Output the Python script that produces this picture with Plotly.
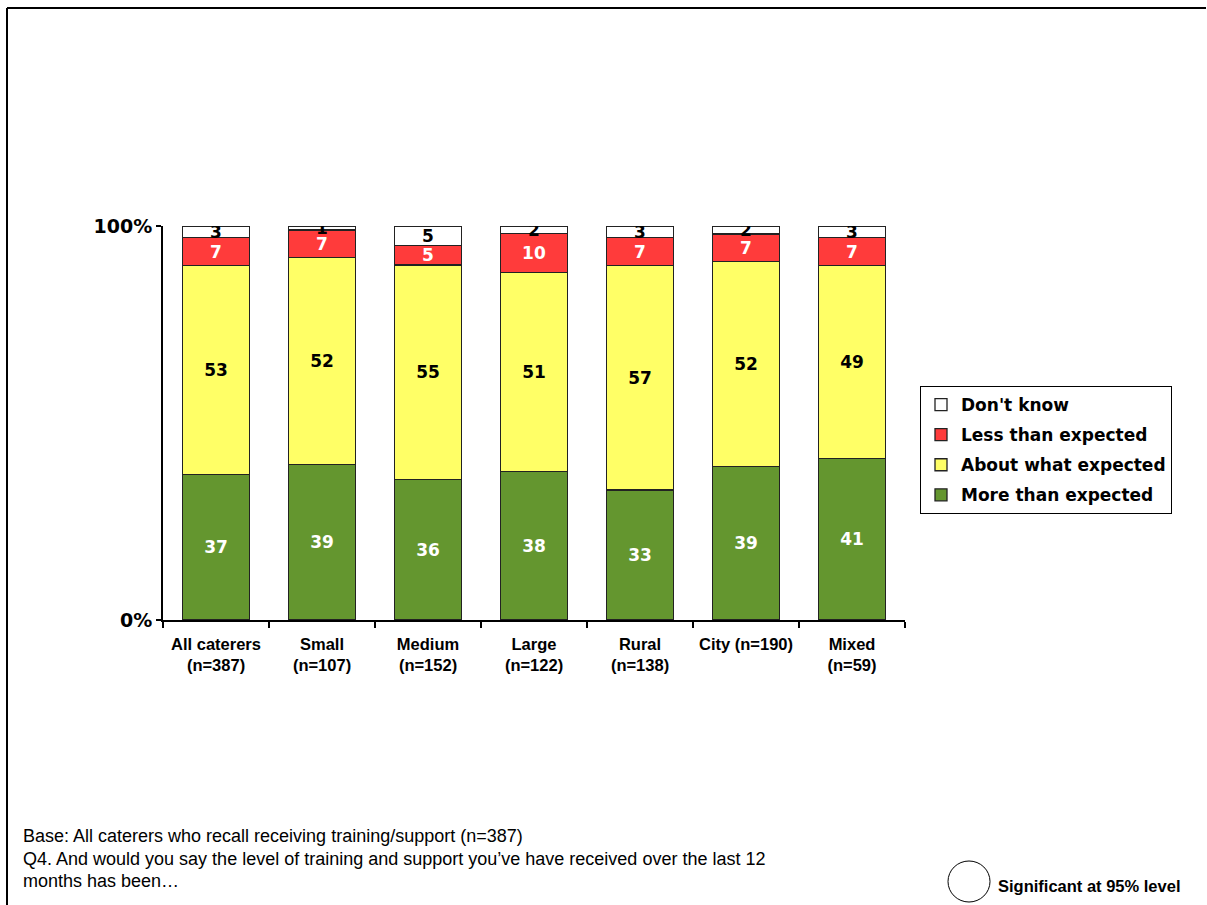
import plotly.graph_objects as go

# Survey results: level of training/support received vs. expectation
categories = [
    "All caterers<br>(n=387)",
    "Small<br>(n=107)",
    "Medium<br>(n=152)",
    "Large<br>(n=122)",
    "Rural<br>(n=138)",
    "City (n=190)",
    "Mixed<br>(n=59)",
]
more_than_expected = [37, 39, 36, 38, 33, 39, 41]
about_what_expected = [53, 52, 55, 51, 57, 52, 49]
less_than_expected = [7, 7, 5, 10, 7, 7, 7]
dont_know = [3, 1, 5, 2, 3, 2, 3]

# stacked bottom-to-top; legend lists them top-to-bottom
series = [
    ("More than expected", more_than_expected, "#64962F", "white"),
    ("About what expected", about_what_expected, "#FFFF66", "black"),
    ("Less than expected", less_than_expected, "#FF3B3B", "white"),
    ("Don't know", dont_know, "#FFFFFF", "black"),
]

W, H = 1207, 905
L, R, T, B = 163, 905, 226, 620  # plot area in pixels


def px_x(px):
    return (px - L) / (R - L)


def px_y(py):
    return (B - py) / (B - T)


BOLD = "DejaVu Sans"

fig = go.Figure()
for i, (name, vals, color, txtcolor) in enumerate(series):
    fig.add_trace(go.Bar(
        name=name,
        legendgroup=name,
        legendrank=1000 - i,
        x=categories,
        y=vals,
        text=[str(v) for v in vals],
        textposition="inside",
        insidetextanchor="middle",
        textangle=0,
        constraintext="none",
        textfont=dict(family=BOLD, size=17, color=txtcolor, weight="bold"),
        marker=dict(color=color, line=dict(color="#222222", width=1.3)),
    ))

shapes = [
    # page frame (top and left edges)
    dict(type="line", xref="paper", yref="paper",
         x0=px_x(7), x1=px_x(1206), y0=px_y(8), y1=px_y(8),
         line=dict(color="black", width=2)),
    dict(type="line", xref="paper", yref="paper",
         x0=px_x(7), x1=px_x(7), y0=px_y(8), y1=px_y(906),
         line=dict(color="black", width=2)),
    # significance marker
    dict(type="circle", xref="paper", yref="paper",
         x0=px_x(948), x1=px_x(990), y0=px_y(861), y1=px_y(902),
         line=dict(color="black", width=1)),
]

foot_font = dict(family="Liberation Sans", size=18, color="black")
annotations = [
    dict(text="Base: All caterers who recall receiving training/support (n=387)",
         x=px_x(21), y=px_y(836)),
    dict(text="Q4. And would you say the level of training and support you\u2019ve have received over the last 12",
         x=px_x(21), y=px_y(859)),
    dict(text="months has been\u2026",
         x=px_x(21), y=px_y(881)),
]
annotations = [dict(a, xref="paper", yref="paper", xanchor="left", yanchor="middle",
                    showarrow=False, font=foot_font) for a in annotations]
annotations.append(dict(text="<b>Significant at 95% level</b>", xref="paper", yref="paper",
                        x=px_x(996), y=px_y(886), xanchor="left", yanchor="middle",
                        showarrow=False,
                        font=dict(family="Liberation Sans", size=16.5, color="black")))

fig.update_layout(
    width=W, height=H,
    margin=dict(l=L, r=W - R, t=T, b=H - B, pad=0),
    paper_bgcolor="white", plot_bgcolor="white",
    barmode="stack", barnorm="percent", bargap=0.37,
    showlegend=True,
    legend=dict(
        x=px_x(920), y=px_y(386), xanchor="left", yanchor="top",
        traceorder="grouped", tracegroupgap=5,
        bgcolor="white", bordercolor="black", borderwidth=1,
        font=dict(family=BOLD, size=17, color="black", weight="bold"),
        itemwidth=30,
    ),
    xaxis=dict(
        showline=True, linecolor="black", linewidth=2,
        ticks="outside", ticklen=6, tickcolor="black", tickwidth=2,
        tickson="boundaries", tickangle=0, ticklabelstandoff=8,
        tickfont=dict(family="Liberation Sans", size=16.5, color="black", weight="bold"),
        showgrid=False, fixedrange=True,
    ),
    yaxis=dict(
        range=[0, 100], tickvals=[0, 100], ticktext=["0%", "100%"],
        showline=True, linecolor="black", linewidth=2,
        ticks="outside", ticklen=5, tickcolor="black", tickwidth=2,
        tickfont=dict(family=BOLD, size=19, color="black", weight="bold"),
        showgrid=False, zeroline=False, fixedrange=True,
    ),
    shapes=shapes,
    annotations=annotations,
    uniformtext=dict(mode="show", minsize=17),
)

fig.write_html("out.html")
